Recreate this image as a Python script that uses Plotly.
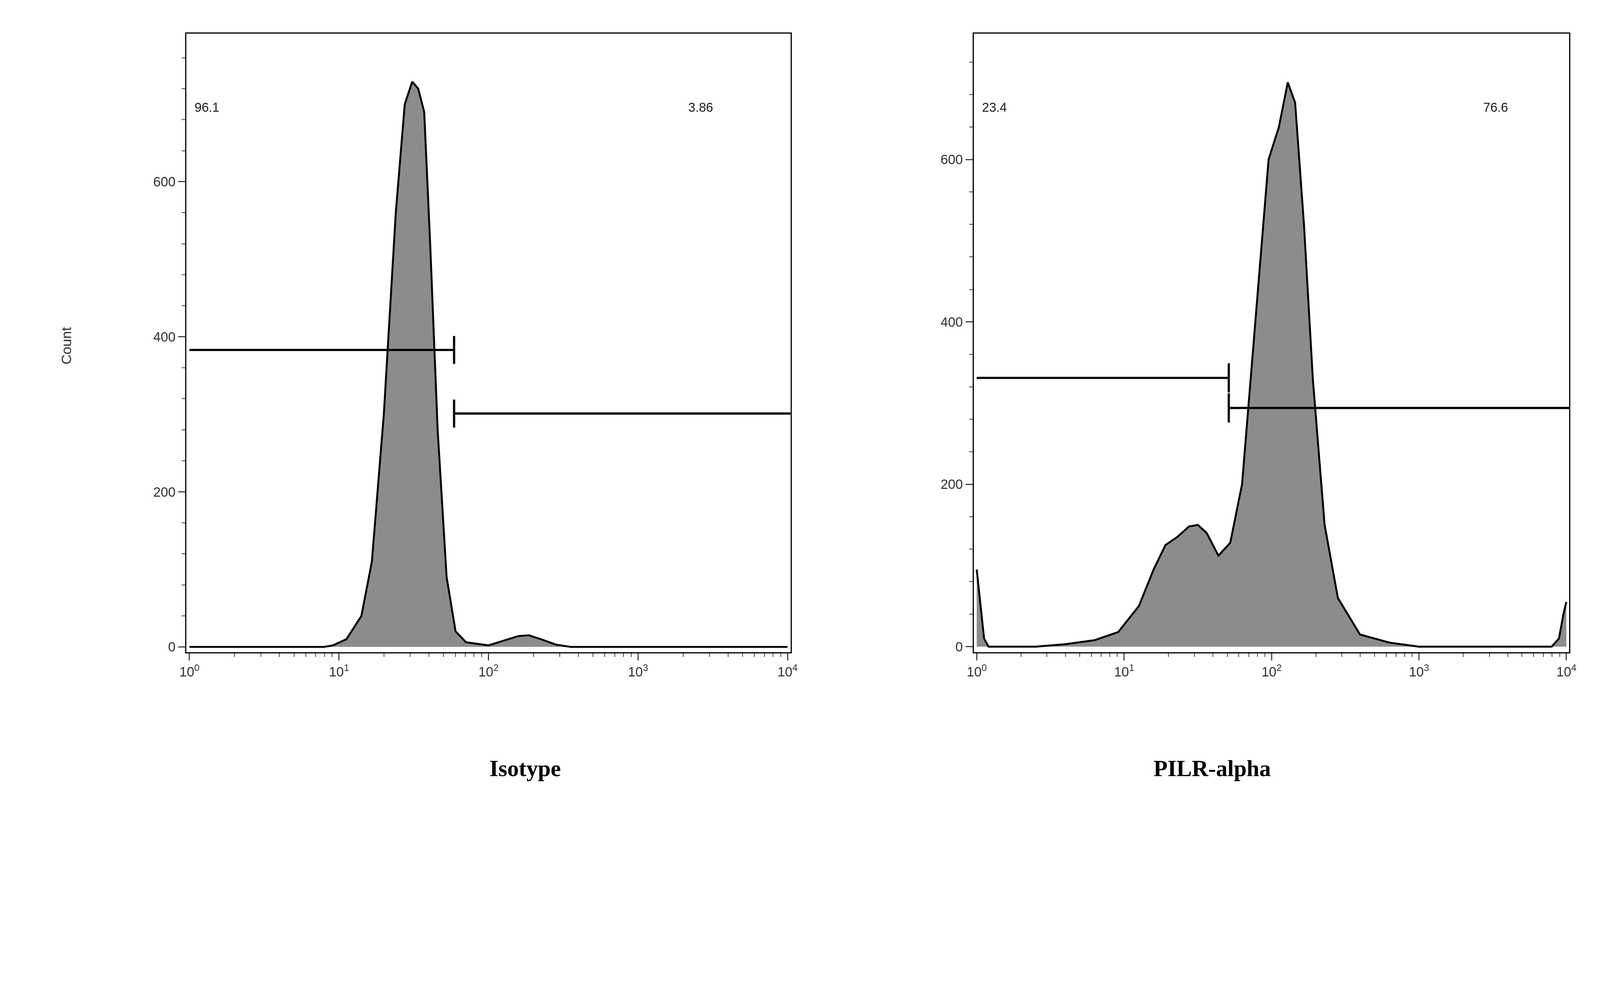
import plotly.graph_objects as go

# Isotype histogram (log10 decades, count)
iso_logx = [0.0, 0.9, 0.96, 1.05, 1.15, 1.22, 1.3, 1.38, 1.44, 1.49, 1.53, 1.57, 1.61, 1.66, 1.72, 1.78, 1.85, 1.92, 2.0, 2.1, 2.2, 2.27, 2.35, 2.45, 2.55, 4.0]
iso_cnt  = [0,   0,   2,    10,   40,   110,  300,  560,  700,  729,  720,  690,  520,  280,  90,   20,   6,    4,    2,    8,    14,   15,   10,   3,    0,    0]
# PILR-alpha histogram
pil_logx = [0.0, 0.02, 0.05, 0.08, 0.4, 0.6, 0.8, 0.96, 1.1, 1.2, 1.28, 1.36, 1.44, 1.5, 1.56, 1.64, 1.72, 1.8, 1.9, 1.98, 2.05, 2.11, 2.16, 2.22, 2.28, 2.36, 2.45, 2.6, 2.8, 3.0, 3.9, 3.95, 3.98, 4.0]
pil_cnt  = [95,  60,   10,   0,    0,   3,   8,   18,   50,  95,  125,  135,  148,  150, 140,  112,  128,  200, 420,  600,  640,  695,  670,  520,  330,  150,  60,   15,   5,   0,   0,   10,   40,   55]

iso_gates = [(0.0, 1.77, 383), (1.77, 4.02, 301)]
pil_gates = [(0.0, 1.71, 331), (1.71, 4.02, 294)]
iso_labels = ["96.1", "3.86"]
pil_labels = ["23.4", "76.6"]
titles = ["Isotype", "PILR-alpha"]

K = 0.816  # effective viewport scaling
W, H = 4080, 2092

fig = go.Figure()
panels = [
    (iso_logx, iso_cnt, iso_gates, iso_labels, [0.1116, 0.494], 791, "x", "y"),
    (pil_logx, pil_cnt, pil_gates, pil_labels, [0.610, 0.987], 755, "x2", "y2"),
]
tickvals = [1, 10, 100, 1000, 10000]
ticktext = ["10<sup>0</sup>", "10<sup>1</sup>", "10<sup>2</sup>", "10<sup>3</sup>", "10<sup>4</sup>"]
minor_vals = [m * 10**k for k in range(4) for m in range(2, 10)]
for i, (lx, c, gates, labs, dom, ytop, xa, ya) in enumerate(panels):
    xs = [10**v for v in lx]
    fig.add_trace(go.Scatter(x=xs, y=c, mode="lines", fill="tozeroy", fillcolor="#8c8c8c",
                             line=dict(color="black", width=6 * K), xaxis=xa, yaxis=ya, showlegend=False))
    for (a, b, h) in gates:
        fig.add_trace(go.Scatter(x=[10**a, 10**b], y=[h, h], mode="lines", line=dict(color="black", width=7 * K),
                                 xaxis=xa, yaxis=ya, showlegend=False))
        for e in (a, b):
            if 0.01 < e < 4.0:
                fig.add_trace(go.Scatter(x=[10**e, 10**e], y=[h - 18, h + 18], mode="lines",
                                         line=dict(color="black", width=7 * K), xaxis=xa, yaxis=ya, showlegend=False))
    fig.add_annotation(x=0.03, y=ytop * 0.88, xref=xa, yref=ya, text=labs[0], showarrow=False,
                       xanchor="left", font=dict(size=40 * K, color="#222", family="Liberation Sans"))
    fig.add_annotation(x=3.33 if i == 0 else 3.43, y=ytop * 0.88, xref=xa, yref=ya, text=labs[1], showarrow=False,
                       xanchor="left", font=dict(size=40 * K, color="#222", family="Liberation Sans"))
    fig.add_annotation(x=(dom[0] + dom[1]) / 2, y=0.045, xref="paper", yref="paper", text="<b>" + titles[i] + "</b>",
                       showarrow=False, font=dict(size=72 * K, color="black", family="Liberation Serif"))
    axx = dict(type="log", domain=dom, range=[-0.02, 4.02], tickvals=tickvals, ticktext=ticktext,
               ticks="outside", ticklen=22 * K, tickwidth=4 * K, showline=True, linewidth=4 * K, linecolor="black",
               mirror=True, showgrid=False, zeroline=False, anchor=ya,
               minor=dict(ticks="outside", ticklen=11 * K, tickwidth=2 * K, tickvals=minor_vals, showgrid=False),
               tickfont=dict(size=42 * K, color="#333", family="Liberation Sans"))
    axy = dict(domain=[0.204, 0.9626], range=[-7, ytop], tickvals=[0, 200, 400, 600], ticks="outside",
               ticklen=22 * K, tickwidth=4 * K,
               showline=True, linewidth=4 * K, linecolor="black", mirror=True, showgrid=False, zeroline=False,
               anchor=xa, minor=dict(ticks="outside", ticklen=11 * K, tickwidth=2 * K, dtick=40),
               tickfont=dict(size=42 * K, color="#333", family="Liberation Sans"))
    if i == 0:
        fig.update_layout(xaxis=axx, yaxis=axy)
    else:
        fig.update_layout(xaxis2=axx, yaxis2=axy)

fig.add_annotation(x=0.03, y=0.58, xref="paper", yref="paper", text="Count", textangle=-90, showarrow=False,
                   font=dict(size=44 * K, color="#333", family="Liberation Sans"))
fig.update_layout(width=W, height=H, margin=dict(l=0, r=0, t=0, b=0),
                  paper_bgcolor="white", plot_bgcolor="white")
fig.write_html("out.html")
